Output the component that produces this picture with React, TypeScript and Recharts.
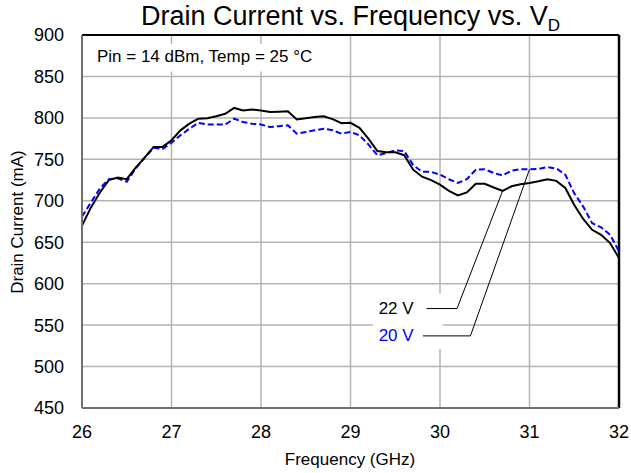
import { LineChart, Line, XAxis, YAxis, CartesianGrid, ReferenceLine, ReferenceArea, ReferenceDot } from 'recharts'

// Frequency sweep (GHz), 0.1 GHz steps
const frequency = [
  26.0, 26.1, 26.2, 26.3, 26.4, 26.5, 26.6, 26.7, 26.8, 26.9,
  27.0, 27.1, 27.2, 27.3, 27.4, 27.5, 27.6, 27.7, 27.8, 27.9,
  28.0, 28.1, 28.2, 28.3, 28.4, 28.5, 28.6, 28.7, 28.8, 28.9,
  29.0, 29.1, 29.2, 29.3, 29.4, 29.5, 29.6, 29.7, 29.8, 29.9,
  30.0, 30.1, 30.2, 30.3, 30.4, 30.5, 30.6, 30.7, 30.8, 30.9,
  31.0, 31.1, 31.2, 31.3, 31.4, 31.5, 31.6, 31.7, 31.8, 31.9,
  32.0,
]

// Drain current (mA) at VD = 22 V
const current22V = [
  670, 692, 710, 725, 728, 726, 740, 752, 765, 765,
  773, 785, 793, 799, 799.5, 802, 805, 812, 809, 810,
  809, 807, 807.5, 808, 798, 799.5, 801, 802, 798.5, 793.5,
  794, 788, 775, 760, 758.5, 758.5, 755, 737.5, 729, 725,
  719.5, 712, 706.5, 710, 720.5, 720.5, 716, 712, 717.5, 720,
  721.5, 723.5, 726, 724, 715.5, 695, 678, 665, 659, 649,
  631,
]

// Drain current (mA) at VD = 20 V
const current20V = [
  681, 698, 715, 726, 727, 723, 739, 752, 764, 762.5,
  770, 779, 787, 794, 792, 792, 792, 799, 795, 793,
  792, 789, 790, 791, 781, 783, 785, 787, 785, 781,
  783, 779, 768, 755, 757.5, 761, 760, 743, 735, 735,
  731.5, 726, 721.5, 726, 737.5, 738, 733.5, 730.5, 736.5, 738,
  738, 738.5, 740.5, 739, 731.5, 709, 693, 673, 668, 659,
  639,
]

const xTicks = [26, 27, 28, 29, 30, 31, 32]
const yTicks = [450, 500, 550, 600, 650, 700, 750, 800, 850, 900]

const FONT = 'Liberation Sans, Arial, sans-serif'

export default function App() {
  const data = frequency.map((f, i) => ({ f, v22: current22V[i], v20: current20V[i] }))

  return (
    <div style={{ position: 'absolute', left: 0, top: 0, width: 631, height: 473, background: '#fff', fontFamily: FONT }}>
      <LineChart
        width={631}
        height={473}
        data={data}
        margin={{ top: 35, right: 12, bottom: 35, left: 0 }}
        style={{ position: 'absolute', left: 0, top: 0 }}
      >
        <CartesianGrid stroke="#b3b3b3" strokeWidth={1.5} />
        <XAxis
          dataKey="f"
          type="number"
          domain={[26, 32]}
          ticks={xTicks}
          tickSize={0}
          tickMargin={17}
          stroke="#707070"
          strokeWidth={2}
          tick={{ fill: '#000', fontSize: 18, fontFamily: FONT }}
          label={() => (
            <text x={350} y={465} textAnchor="middle" fontSize={17} fontFamily={FONT} fill="#000">
              Frequency (GHz)
            </text>
          )}
        />
        <YAxis
          type="number"
          domain={[450, 900]}
          ticks={yTicks}
          width={82}
          tickSize={0}
          tickMargin={18}
          stroke="#707070"
          strokeWidth={2}
          tick={{ fill: '#000', fontSize: 18, fontFamily: FONT }}
          label={() => (
            <text
              x={17}
              y={222}
              transform="rotate(-90 17 222)"
              textAnchor="middle"
              dominantBaseline="central"
              fontSize={17}
              fontFamily={FONT}
              fill="#000"
            >
              Drain Current (mA)
            </text>
          )}
        />
        {/* white boxes behind annotations */}
        <ReferenceArea x1={26} x2={28.7} y1={856} y2={889} fill="#fff" fillOpacity={1} stroke="none" />
        <ReferenceArea x1={29.25} x2={30.03} y1={521} y2={588} fill="#fff" fillOpacity={1} stroke="none" />
        <ReferenceDot
          x={27.37}
          y={874.6}
          r={0}
          stroke="none"
          label={{ value: 'Pin = 14 dBm, Temp = 25 °C', position: 'center', fill: '#000', fontSize: 17, fontFamily: FONT }}
        />
        {/* frame top/right */}
        <ReferenceLine y={900} stroke="#000" strokeWidth={2} />
        <ReferenceLine x={32} stroke="#000" strokeWidth={2.5} />
        {/* leader lines */}
        <ReferenceLine segment={[{ x: 29.85, y: 570 }, { x: 30.19, y: 570 }]} stroke="#000" strokeWidth={1} />
        <ReferenceLine segment={[{ x: 30.19, y: 570 }, { x: 30.7, y: 712 }]} stroke="#000" strokeWidth={1} />
        <ReferenceLine segment={[{ x: 29.81, y: 537 }, { x: 30.34, y: 537 }]} stroke="#000" strokeWidth={1} />
        <ReferenceLine segment={[{ x: 30.34, y: 537 }, { x: 31.0, y: 738 }]} stroke="#000" strokeWidth={1} />
        <ReferenceDot
          x={29.51}
          y={570.4}
          r={0}
          stroke="none"
          label={{ value: '22 V', position: 'center', fill: '#000', fontSize: 17, fontFamily: FONT }}
        />
        <ReferenceDot
          x={29.51}
          y={538}
          r={0}
          stroke="none"
          label={{ value: '20 V', position: 'center', fill: '#0000ff', fontSize: 17, fontFamily: FONT }}
        />
        <Line type="linear" dataKey="v20" stroke="#0000ff" strokeWidth={2} strokeDasharray="6 3" dot={false} isAnimationActive={false} />
        <Line type="linear" dataKey="v22" stroke="#000" strokeWidth={2} dot={false} isAnimationActive={false} />
      </LineChart>
      {/* Title */}
      <div style={{ position: 'absolute', left: 0, width: 701, top: 1, lineHeight: '30px', textAlign: 'center', fontSize: 27, color: '#000', whiteSpace: 'nowrap' }}>
        Drain Current vs. Frequency vs. V<span style={{ fontSize: 17, position: 'relative', top: 6 }}>D</span>
      </div>
    </div>
  )
}
